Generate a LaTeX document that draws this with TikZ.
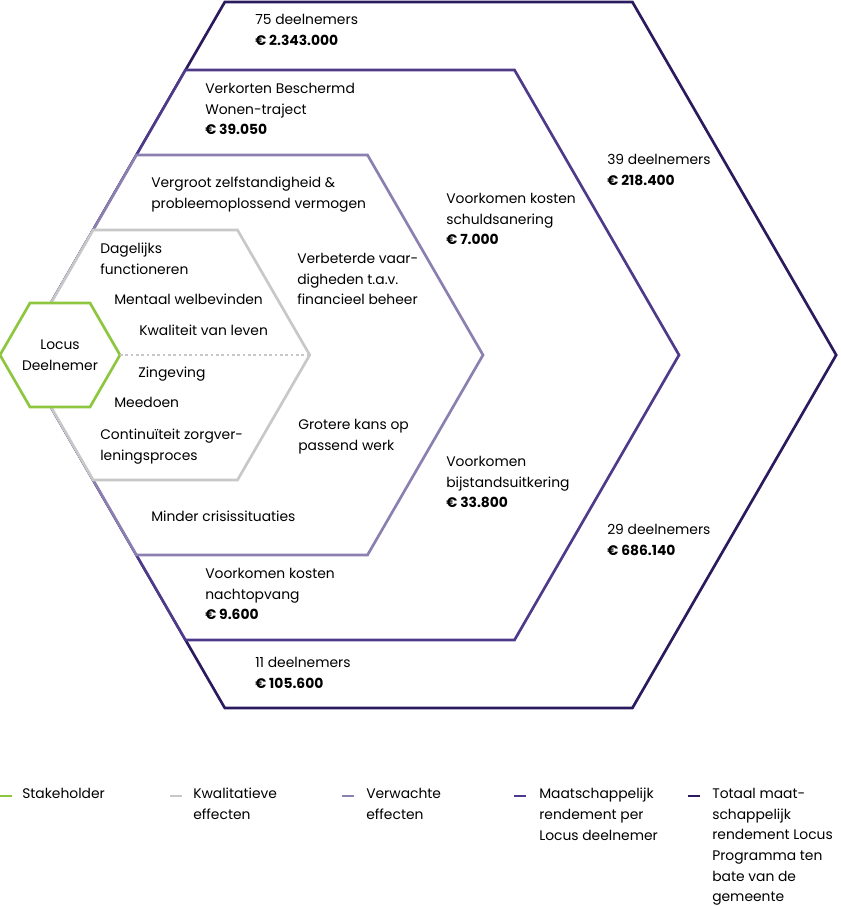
\documentclass[tikz,border=0pt]{standalone}
\usepackage{fontspec}
\setmainfont{Poppins}
\usetikzlibrary{positioning}

\definecolor{totaal}{HTML}{2B1A5E}
\definecolor{maatsch}{HTML}{4F3A8A}
\definecolor{verwacht}{HTML}{8B80B0}
\definecolor{kwalit}{HTML}{C8C8C8}
\definecolor{stake}{HTML}{8DC63F}

\tikzset{
  hexline/.style={line width=2pt, line join=miter, fill=white},
  lbl/.style={anchor=north west, align=left, inner sep=0pt, font=\fontsize{10.4}{15.5}\selectfont},
  legline/.style={line width=2.2pt},
}

\begin{document}
\begin{tikzpicture}[x=0.75pt, y=-0.75pt]
\useasboundingbox (0,0) rectangle (841,906);

% hexagons, outer to inner
\draw[hexline, draw=totaal] (21,355) -- (224.8,2) -- (632.4,2) -- (836.2,355) -- (632.4,708) -- (224.8,708) -- cycle;
\draw[hexline, draw=maatsch] (21,355) -- (185.5,70) -- (514.5,70) -- (679,355) -- (514.5,640) -- (185.5,640) -- cycle;
\draw[hexline, draw=verwacht] (21,355) -- (136.5,155) -- (367.5,155) -- (483,355) -- (367.5,555) -- (136.5,555) -- cycle;
\draw[hexline, draw=kwalit] (21,355) -- (93.2,230) -- (237.5,230) -- (309.7,355) -- (237.5,480) -- (93.2,480) -- cycle;
\coordinate (kwright) at (309.7,355);

% stakeholder
\draw[hexline, draw=stake] (0,355) -- (30,303) -- (90,303) -- (120,355) -- (90,407) -- (30,407) -- cycle;
\node[align=center, inner sep=0pt, font=\fontsize{10.4}{15.5}\selectfont] (locus) at (60,355) {Locus\\Deelnemer};
\coordinate (locusright) at (120,355);
\draw[kwalit, line width=2pt, dotted] (locusright) -- (kwright);

% totaal
\node[lbl] (t1) at (255,14) {75 deelnemers\\\textbf{€ 2.343.000}};
\node[lbl] (t2) at (607,154) {39 deelnemers\\\textbf{€ 218.400}};
\node[lbl] (t3) at (607,524) {29 deelnemers\\\textbf{€ 686.140}};
\node[lbl] (t4) at (255,657) {11 deelnemers\\\textbf{€ 105.600}};

% maatschappelijk
\node[lbl] (m1) at (205,83) {Verkorten Beschermd\\Wonen-traject\\\textbf{€ 39.050}};
\node[lbl] (m2) at (446,193) {Voorkomen kosten\\schuldsanering\\\textbf{€ 7.000}};
\node[lbl] (m3) at (446,456) {Voorkomen\\bijstandsuitkering\\\textbf{€ 33.800}};
\node[lbl] (m4) at (205,568) {Voorkomen kosten\\nachtopvang\\\textbf{€ 9.600}};

% verwacht
\node[lbl] (v1) at (151,177) {Vergroot zelfstandigheid \&\\probleemoplossend vermogen};
\node[lbl] (v2) at (297,253) {Verbeterde vaar-\\digheden t.a.v.\\financieel beheer};
\node[lbl] (v3) at (298,419) {Grotere kans op\\passend werk};
\node[lbl] (v4) at (151,511) {Minder crisissituaties};

% kwalitatief
\node[lbl] (k1) at (100,243) {Dagelijks\\functioneren};
\node[lbl] (k2) at (114,294) {Mentaal welbevinden};
\node[lbl] (k3) at (139,325) {Kwaliteit van leven};
\node[lbl] (k4) at (138,367) {Zingeving};
\node[lbl] (k5) at (114,397) {Meedoen};
\node[lbl] (k6) at (100,429) {Continuïteit zorgver-\\leningsproces};

% legend
\draw[legline, stake] (0,796) -- (12,796);
\node[lbl] (l1) at (22,788) {Stakeholder};
\draw[legline, kwalit] (170,796) -- (182,796);
\node[lbl] (l2) at (193,788) {Kwalitatieve\\effecten};
\draw[legline, verwacht] (342,796) -- (354,796);
\node[lbl] (l3) at (366,788) {Verwachte\\effecten};
\draw[legline, maatsch] (514,796) -- (526,796);
\node[lbl] (l4) at (539,788) {Maatschappelijk\\rendement per\\Locus deelnemer};
\draw[legline, totaal] (688,796) -- (700,796);
\node[lbl] (l5) at (712,788) {Totaal maat-\\schappelijk\\rendement Locus\\Programma ten\\bate van de\\gemeente};
\end{tikzpicture}
\end{document}
